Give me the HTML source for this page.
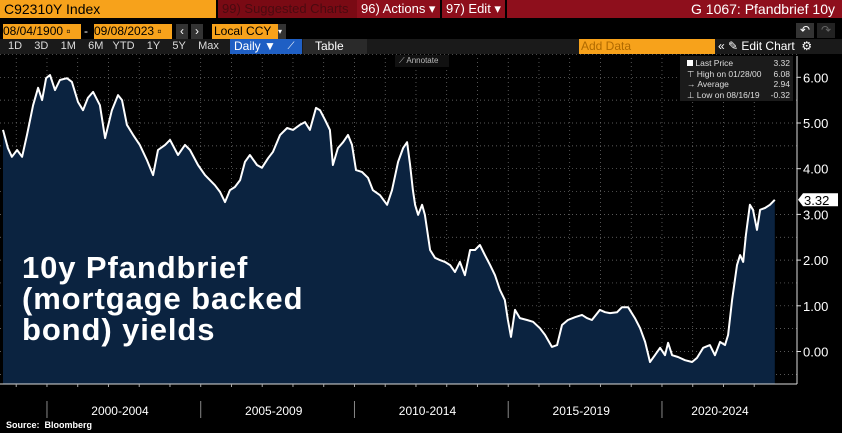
<!DOCTYPE html>
<html><head><meta charset="utf-8">
<style>
body{margin:0;background:#000;width:842px;height:433px;overflow:hidden;font-family:"Liberation Sans",sans-serif;position:relative}
.b{position:absolute;font-size:12px;line-height:15px;white-space:nowrap}
</style></head><body>
<div class="b" style="left:0;top:0;width:212px;height:18px;background:#f7a21b;color:#000;font-size:14px;line-height:18px;padding-left:4px">C92310Y Index</div>
<div class="b" style="left:218px;top:0;width:136px;height:18px;background:#7a0a14;color:#4a0a10;font-size:13px;line-height:18px;padding-left:4px">99) Suggested Charts</div>
<div class="b" style="left:357px;top:0;width:79px;height:18px;background:#8e0f1c;color:#fff;font-size:13px;line-height:18px;padding-left:4px">96) Actions ▾</div>
<div class="b" style="left:442px;top:0;width:59px;height:18px;background:#8e0f1c;color:#fff;font-size:13px;line-height:18px;padding-left:4px">97) Edit ▾</div>
<div class="b" style="left:507px;top:0;width:328px;height:18px;background:#8e0f1c;color:#fff;font-size:14px;line-height:18px;text-align:right;padding-right:7px">G 1067: Pfandbrief 10y</div>
<div class="b" style="left:3px;top:24px;width:78px;background:#f7a21b;color:#000">08/04/1900 ▫</div>
<div class="b" style="left:84px;top:24px;color:#fff">-</div>
<div class="b" style="left:94px;top:24px;width:78px;background:#f7a21b;color:#000">09/08/2023 ▫</div>
<div class="b" style="left:176px;top:24px;width:12px;background:#333;color:#fff;text-align:center">‹</div>
<div class="b" style="left:191px;top:24px;width:12px;background:#333;color:#fff;text-align:center">›</div>
<div class="b" style="left:212px;top:24px;width:64px;background:#f7a21b;color:#000;padding-left:2px">Local CCY</div>
<div class="b" style="left:278px;top:24px;width:8px;background:#333;color:#fff;font-size:8px">▾</div>
<div class="b" style="left:796px;top:23px;width:18px;height:15px;background:#333;color:#fff;text-align:center">↶</div>
<div class="b" style="left:817px;top:23px;width:18px;height:15px;background:#222;color:#666;text-align:center">↷</div>
<div style="position:absolute;left:0;top:39px;width:842px;height:15px;background:#1a1a1a"></div>
<div class="b" style="left:8px;top:39px;color:#ddd;font-size:11px;word-spacing:0">1D&nbsp;&nbsp;&nbsp;&nbsp;3D&nbsp;&nbsp;&nbsp;&nbsp;1M&nbsp;&nbsp;&nbsp;&nbsp;6M&nbsp;&nbsp;&nbsp;YTD&nbsp;&nbsp;&nbsp;&nbsp;1Y&nbsp;&nbsp;&nbsp;&nbsp;5Y&nbsp;&nbsp;&nbsp;&nbsp;Max</div>
<div class="b" style="left:230px;top:39px;width:46px;background:#1f5fc4;color:#fff;padding-left:4px">Daily ▼</div>
<div class="b" style="left:280px;top:39px;width:22px;background:#1f5fc4;color:#fff;text-align:center;font-size:10px">⟋</div>
<div class="b" style="left:303px;top:39px;width:52px;background:#2a2a2a;color:#fff;padding-left:12px">Table</div>
<div class="b" style="left:579px;top:39px;width:134px;background:#f7a21b;color:#b06a00;padding-left:2px">Add Data</div>
<div class="b" style="left:718px;top:39px;color:#fff">«&nbsp;✎ Edit Chart&nbsp;&nbsp;⚙</div>
<svg id="chart" width="842" height="433" style="position:absolute;left:0;top:0"></svg>
<div style="position:absolute;left:680px;top:56px;width:113px;height:45px;background:#1b1b1b;color:#ddd;font-size:8.5px;line-height:10.5px">
<div style="position:absolute;left:7px;top:2px;width:103px"><span style="display:inline-block;width:6px;height:6px;background:#fff"></span> Last Price<span style="float:right">3.32</span></div>
<div style="position:absolute;left:7px;top:12.5px;width:103px">⊤ High on 01/28/00<span style="float:right">6.08</span></div>
<div style="position:absolute;left:7px;top:23px;width:103px">→ Average<span style="float:right">2.94</span></div>
<div style="position:absolute;left:7px;top:33.5px;width:103px">⊥ Low on 08/16/19<span style="float:right">-0.32</span></div>
</div>
<div class="b" style="left:395px;top:55px;width:50px;height:12px;background:#111;color:#bbb;font-size:8px;line-height:12px;padding-left:4px">⟋ Annotate</div>
<div style="position:absolute;left:22px;top:252px;color:#fff;font-weight:bold;font-size:31px;line-height:31px;letter-spacing:0.9px">10y Pfandbrief<br>(mortgage backed<br>bond) yields</div>
<div class="b" style="left:6px;top:418px;color:#fff;font-size:9px;font-weight:bold">Source:&nbsp; Bloomberg</div>
<script>
const years=[1998.57,1998.73,1998.86,1999.03,1999.19,1999.35,1999.55,1999.71,1999.84,1999.97,2000.10,2000.26,2000.42,2000.65,2000.81,2001.01,2001.17,2001.33,2001.50,2001.72,2001.89,2002.11,2002.31,2002.44,2002.60,2002.80,2003.02,2003.25,2003.45,2003.61,2003.84,2004.00,2004.26,2004.49,2004.65,2004.91,2005.14,2005.30,2005.46,2005.63,2005.79,2005.95,2006.11,2006.28,2006.44,2006.60,2006.83,2006.99,2007.19,2007.35,2007.58,2007.81,2008.00,2008.23,2008.39,2008.55,2008.75,2008.88,2009.04,2009.20,2009.30,2009.46,2009.63,2009.79,2009.92,2010.05,2010.24,2010.44,2010.60,2010.83,2011.06,2011.22,2011.42,2011.58,2011.71,2011.81,2011.90,2011.97,2012.07,2012.20,2012.29,2012.46,2012.62,2012.78,2012.94,2013.11,2013.27,2013.43,2013.59,2013.76,2013.92,2014.08,2014.24,2014.41,2014.57,2014.73,2014.89,2014.99,2015.09,2015.22,2015.38,2015.61,2015.81,2016.03,2016.20,2016.42,2016.59,2016.75,2016.94,2017.17,2017.40,2017.56,2017.72,2017.98,2018.15,2018.31,2018.54,2018.70,2018.90,2019.12,2019.29,2019.45,2019.61,2019.77,2019.94,2020.10,2020.20,2020.33,2020.52,2020.75,2020.98,2021.14,2021.34,2021.56,2021.72,2021.89,2022.05,2022.15,2022.28,2022.44,2022.54,2022.64,2022.73,2022.86,2022.96,2023.09,2023.19,2023.35,2023.51,2023.67];
const yields=[4.85,4.45,4.26,4.41,4.26,4.74,5.39,5.77,5.50,5.98,6.05,5.72,5.94,5.98,5.90,5.46,5.28,5.55,5.68,5.39,4.67,5.28,5.61,5.50,4.96,4.74,4.52,4.19,3.86,4.41,4.52,4.63,4.30,4.52,4.41,4.08,3.86,3.75,3.64,3.49,3.27,3.53,3.60,3.75,4.15,4.30,4.08,4.02,4.23,4.37,4.74,4.89,4.85,4.96,5.02,4.85,5.33,5.28,5.07,4.85,4.08,4.45,4.58,4.74,4.52,3.97,3.93,3.80,3.53,3.42,3.21,3.53,4.15,4.45,4.58,4.08,3.53,3.21,2.99,3.21,2.99,2.22,2.05,2.00,1.96,1.89,1.74,1.96,1.67,2.22,2.22,2.33,2.11,1.89,1.67,1.35,1.13,0.69,0.32,0.91,0.73,0.69,0.65,0.51,0.36,0.10,0.14,0.58,0.69,0.75,0.80,0.73,0.69,0.91,0.86,0.84,0.86,0.97,0.97,0.73,0.51,0.21,-0.23,-0.08,0.08,-0.08,0.19,-0.08,-0.12,-0.19,-0.23,-0.14,0.08,0.14,-0.08,0.21,0.14,0.36,1.13,1.89,2.11,1.96,2.55,3.21,3.10,2.66,3.10,3.14,3.21,3.32];
const yTicks=[0,1,2,3,4,5,6];
const periodLabels=["2000-2004","2005-2009","2010-2014","2015-2019","2020-2024"];
const lastPrice=3.32;
const NS="http://www.w3.org/2000/svg";
const svg=document.getElementById('chart');
const X=yr=>3+(yr-1998.57)*30.75;
const Y=v=>351.5-v*45.7;
const PB=384, PR=797;
function mk(t,a){const e=document.createElementNS(NS,t);for(const k in a)e.setAttribute(k,a[k]);svg.appendChild(e);return e;}
for(let yr=1999;yr<=2023;yr++){const g=mk('line',{x1:X(yr),x2:X(yr),y1:58,y2:PB,stroke:'#777','stroke-width':0.7,'stroke-dasharray':'1,3'});

}
for(let v=-0.5;v<=6.5;v+=0.5){const g=mk('line',{x1:0,x2:PR,y1:Y(v),y2:Y(v),stroke:'#777','stroke-width':0.7,'stroke-dasharray':'1,3'});

}
let d='';years.forEach((yr,i)=>{d+=(i?'L':'M')+X(yr).toFixed(1)+','+Y(yields[i]).toFixed(1);});
const area=mk('path',{d:d+'L'+X(years[years.length-1]).toFixed(1)+','+PB+'L'+X(years[0]).toFixed(1)+','+PB+'Z',fill:'#0b2340'});


const line=mk('path',{d:d,fill:'none',stroke:'#fff','stroke-width':2,'stroke-linejoin':'round'});


const ax=mk('line',{x1:0,x2:PR,y1:PB,y2:PB,stroke:'#ddd','stroke-width':1});


const ay=mk('line',{x1:PR,x2:PR,y1:56,y2:PB,stroke:'#ddd','stroke-width':1});


for(let yr=1999;yr<=2023;yr++){const t=mk('line',{x1:X(yr),x2:X(yr),y1:PB,y2:PB+3,stroke:'#aaa'});

}
yTicks.forEach(v=>{const t=mk('line',{x1:PR,x2:PR+4,y1:Y(v),y2:Y(v),stroke:'#ddd'});


const l=mk('text',{x:803,y:Y(v)+5,fill:'#fff','font-size':13,'font-family':'Liberation Sans, sans-serif'});l.textContent=v.toFixed(2);

});
periodLabels.forEach((p,i)=>{const s=2000+5*i;const x0=X(s);
const sep=mk('line',{x1:x0,x2:x0,y1:401,y2:418,stroke:'#888'});


const t=mk('text',{x:i==4?720:x0+73,y:415,fill:'#fff','font-size':12,'text-anchor':'middle','font-family':'Liberation Sans, sans-serif'});t.textContent=p;

});
const ly=Y(lastPrice);
const tag=mk('path',{d:`M798,${ly} L803,${ly-6.5} L838,${ly-6.5} L838,${ly+6.5} L803,${ly+6.5} Z`,fill:'#fff'});


const tt=mk('text',{x:804,y:ly+5,fill:'#000','font-size':13,'font-family':'Liberation Sans, sans-serif'});tt.textContent=lastPrice.toFixed(2);


</script>
</body></html>
